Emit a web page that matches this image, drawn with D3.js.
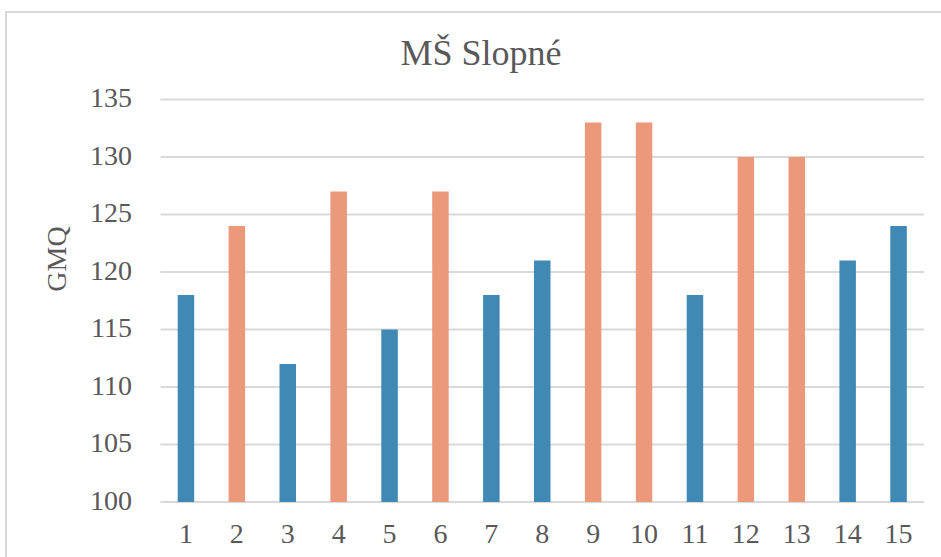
<!DOCTYPE html>
<html><head><meta charset="utf-8">
<script src="https://cdn.jsdelivr.net/npm/d3@7"></script>
<style>body{margin:0;background:#fff}svg{display:block}</style>
</head><body>
<svg id="c" width="941" height="557"></svg>
<script>
const categories = ["1","2","3","4","5","6","7","8","9","10","11","12","13","14","15"];
const values = [118,124,112,127,115,127,118,121,133,133,118,130,130,121,124];
const groups = ["b","o","b","o","b","o","b","b","o","o","b","o","o","b","b"];
const yTicks = [100,105,110,115,120,125,130,135];
const title = "MŠ Slopné";
const yLabel = "GMQ";
const colors = {b:"#3f89b4", o:"#eb997a"};

const svg = d3.select("#c");
const font = "'Liberation Serif', 'Times New Roman', serif";
svg.append("rect").attr("x",6).attr("y",12).attr("width",960).attr("height",600)
  .attr("fill","#fff").attr("stroke","#d9d9d9").attr("stroke-width",2);

const x = d3.scaleBand().domain(categories).range([160.5,924]).paddingInner(0.676).paddingOuter(0.338);
const y = d3.scaleLinear().domain([100,135]).range([502,99.5]);

svg.append("g").selectAll("line").data(yTicks).join("line")
  .attr("x1",160.5).attr("x2",924).attr("y1",d=>y(d)).attr("y2",d=>y(d))
  .attr("stroke","#d9d9d9").attr("stroke-width",2);

svg.append("g").selectAll("rect").data(values).join("rect")
  .attr("x",(d,i)=>x(categories[i])).attr("width",x.bandwidth())
  .attr("y",d=>y(d)).attr("height",d=>y(100)-y(d))
  .attr("fill",(d,i)=>colors[groups[i]]);

const yAxis = d3.axisLeft(y).tickValues(yTicks).tickSize(0).tickPadding(0);
const gy = svg.append("g").attr("transform","translate(132,0)").call(yAxis);
gy.select(".domain").remove();
gy.selectAll("text").attr("font-family",font).attr("font-size",28).attr("fill","#595959").attr("dy","0.25em");

const xAxis = d3.axisBottom(x).tickSize(0).tickPadding(0);
const gx = svg.append("g").attr("transform","translate(0,543)").call(xAxis);
gx.select(".domain").remove();
gx.selectAll("text").attr("font-family",font).attr("font-size",28).attr("fill","#595959").attr("dy","0");

svg.append("text").attr("x",481).attr("y",65).attr("text-anchor","middle")
  .attr("font-family",font).attr("font-size",36).attr("fill","#595959").text(title);

svg.append("text").attr("transform","translate(66,259) rotate(-90)").attr("text-anchor","middle")
  .attr("font-family",font).attr("font-size",28).attr("fill","#595959").text(yLabel);
</script>
</body></html>
